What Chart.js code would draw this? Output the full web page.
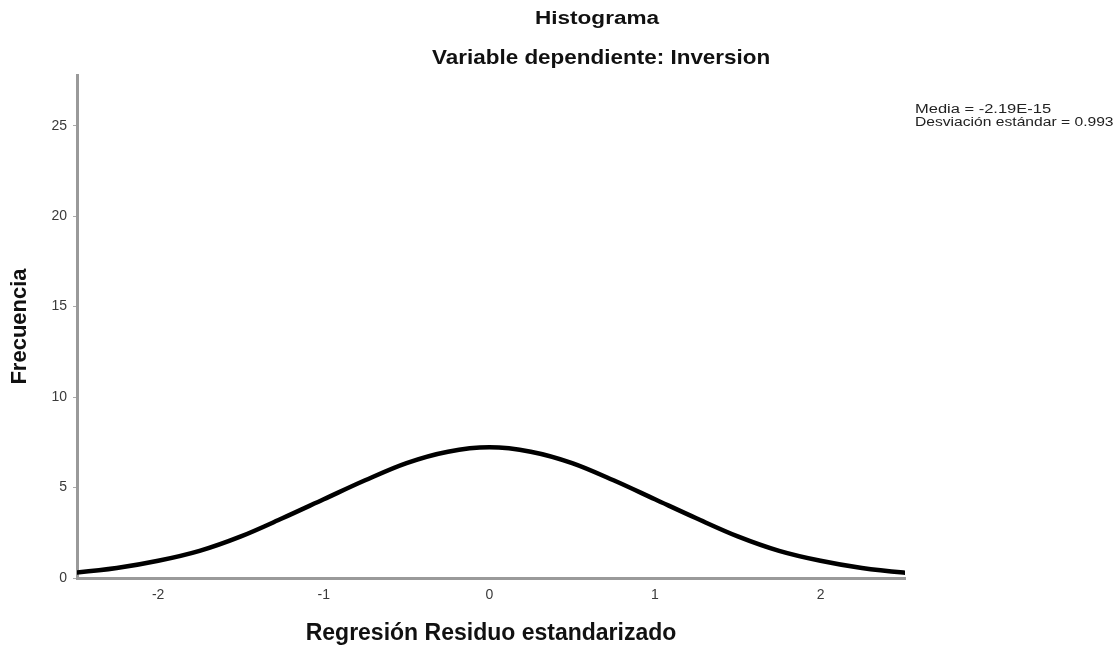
<!DOCTYPE html>
<html>
<head>
<meta charset="utf-8">
<script src="https://cdn.jsdelivr.net/npm/chart.js@4/dist/chart.umd.min.js"></script>
<style>
  html, body { margin: 0; padding: 0; background: #fff; }
  #wrap { position: relative; width: 1120px; height: 647px; overflow: hidden; }
  canvas { position: absolute; left: 0; top: 0; }
  .txt { position: absolute; white-space: nowrap; font-family: "Liberation Sans", Arial, sans-serif; color: #111; transform-origin: 0 0; }
  .ttl { font-weight: bold; }
</style>
</head>
<body>
<div id="wrap">
  <canvas id="c" width="1120" height="647"></canvas>
  <div id="t1" class="txt ttl" style="font-size:18px;"></div>
  <div id="t2" class="txt ttl" style="font-size:21px;"></div>
  <div id="l1" class="txt" style="font-size:12px;line-height:13px;color:#222;"></div>
  <div id="l2" class="txt" style="font-size:12px;line-height:13px;color:#222;"></div>
</div>
<script>
// ---- data ----
const titleText = "Histograma";
const subtitleText = "Variable dependiente: Inversion";
const xAxisTitle = "Regresión Residuo estandarizado";
const yAxisTitle = "Frecuencia";
const statsLines = ["Media = -2.19E-15", "Desviación estándar = 0.993"];

const xTicks = [-2, -1, 0, 1, 2];
const yTicks = [0, 5, 10, 15, 20, 25];

// normal curve, points
const curveX = [-2.75, -2.5, -2.25, -2.0, -1.75, -1.5, -1.25, -1.0, -0.75, -0.5, -0.25, 0.0, 0.25, 0.5, 0.75, 1.0, 1.25, 1.5, 1.75, 2.0, 2.25, 2.5, 2.75];
const curveY = [0.15, 0.30, 0.55, 0.95, 1.5, 2.3, 3.3, 4.35, 5.4, 6.35, 6.98, 7.22, 6.98, 6.35, 5.4, 4.35, 3.3, 2.3, 1.5, 0.95, 0.55, 0.30, 0.15];

// ---- text overlays ----
function place(id, text, left, top, targetWidth) {
  const el = document.getElementById(id);
  el.textContent = text;
  el.style.left = left + "px";
  el.style.top = top + "px";
  const w = el.offsetWidth;
  if (targetWidth && w > 0) el.style.transform = "scaleX(" + (targetWidth / w) + ")";
}
place("t1", titleText, 535, 8, 124);
place("t2", subtitleText, 432, 45, 338);
place("l1", statsLines[0], 915, 103, 136);
place("l2", statsLines[1], 915, 116, 198);

// ---- chart ----
const pts = curveX.map((x, i) => ({ x: x, y: curveY[i] }));

new Chart(document.getElementById("c"), {
  type: "line",
  data: {
    datasets: [{
      data: pts,
      borderColor: "#000",
      borderWidth: 4.5,
      pointRadius: 0,
      fill: false,
      cubicInterpolationMode: "monotone"
    }]
  },
  options: {
    responsive: false,
    animation: false,
    layout: { padding: { top: 75, right: 215, bottom: 0, left: 0 } },
    plugins: { legend: { display: false }, title: { display: false }, tooltip: { enabled: false } },
    scales: {
      x: {
        type: "linear",
        min: -2.49,
        max: 2.51,
        afterBuildTicks: s => { s.ticks = xTicks.map(v => ({ value: v })); },
        afterFit: s => { s.height = 69; },
        grid: { color: "rgba(0,0,0,0)", drawTicks: false },
        border: { display: true, color: "#9a9a9a", width: 3 },
        ticks: { color: "#3a3a3a", padding: 9, font: { family: "Liberation Sans", size: 14 } },
        title: {
          display: true, text: xAxisTitle, color: "#111",
          font: { family: "Liberation Sans", size: 23, weight: "bold" },
          padding: { top: 0, bottom: 0 }
        }
      },
      y: {
        type: "linear",
        min: 0,
        max: 27.8,
        afterBuildTicks: s => { s.ticks = yTicks.map(v => ({ value: v })); },
        afterFit: s => { s.width = 77; },
        grid: { color: "rgba(0,0,0,0)", drawTicks: true, tickLength: 4, tickColor: "#aaa" },
        border: { display: true, color: "#9a9a9a", width: 3 },
        ticks: { color: "#3a3a3a", padding: 6, font: { family: "Liberation Sans", size: 14 } },
        title: {
          display: true, text: yAxisTitle, color: "#111",
          font: { family: "Liberation Sans", size: 22, weight: "bold" },
          padding: { top: 7, bottom: 0 }
        }
      }
    }
  }
});
</script>
</body>
</html>
